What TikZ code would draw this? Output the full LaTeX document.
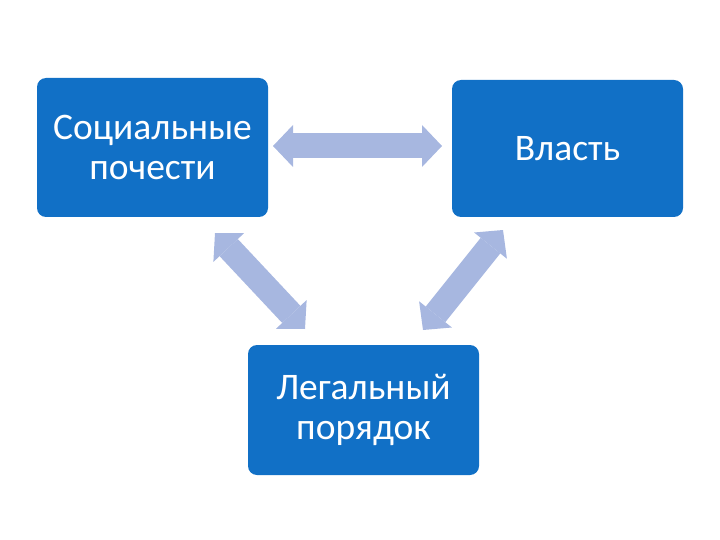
\documentclass[tikz,border=0pt]{standalone}
\usepackage{fontspec}
\setmainfont{Carlito}
\usetikzlibrary{arrows.meta}
\definecolor{boxblue}{RGB}{17,112,198}
\definecolor{arrowblue}{RGB}{167,183,224}
\begin{document}
\begin{tikzpicture}[x=1pt,y=-1pt,
  box/.style={fill=boxblue, draw=none, rounded corners=9pt, text=white, align=center,
    font=\fontsize{37.5}{40}\selectfont, inner sep=0pt},
  link/.style={draw=arrowblue, line width=25pt,
    {Triangle[length=20pt,width=42pt,line width=0pt,fill=arrowblue]}-{Triangle[length=20pt,width=42pt,line width=0pt,fill=arrowblue]}}
]
\useasboundingbox (0,0) rectangle (720,540);
\node[box, minimum width=231pt, minimum height=139pt] (soc) at (152.5,147.5) {Социальные\\почести};
\node[box, minimum width=231pt, minimum height=137pt] (vl) at (567.5,148.5) {Власть};
\node[box, minimum width=231pt, minimum height=130pt] (leg) at (363.5,410) {Легальный\\порядок};
\coordinate (a1) at (273,146);
\coordinate (a2) at (442,146);
\coordinate (b1) at (215,233);
\coordinate (b2) at (305,329);
\coordinate (c1) at (503,230);
\coordinate (c2) at (423,330);
\draw[link] (a1) -- (a2);
\draw[link] (b1) -- (b2);
\draw[link] (c1) -- (c2);
\end{tikzpicture}
\end{document}
